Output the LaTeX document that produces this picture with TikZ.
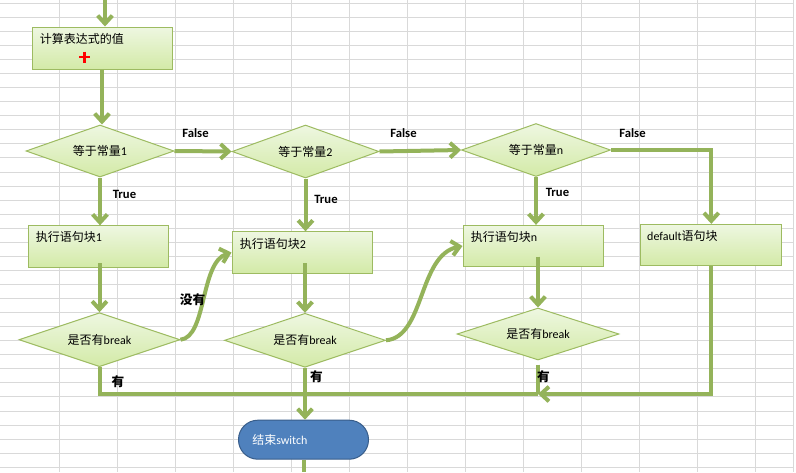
\documentclass[tikz,border=0pt]{standalone}
\usepackage{fontspec}
\setmainfont{Carlito}
\newfontfamily\cjk{Noto Sans CJK SC}
\usetikzlibrary{shapes.geometric,arrows.meta,calc}
\definecolor{gridc}{HTML}{D9D9D9}
\definecolor{arrc}{HTML}{94B35A}
\definecolor{boxtop}{HTML}{EEF7E1}
\definecolor{boxbot}{HTML}{D3EAA7}
\definecolor{boxline}{HTML}{9DBB61}
\definecolor{termfill}{HTML}{4F81BD}
\definecolor{termline}{HTML}{385D8A}
\begin{document}
\begin{tikzpicture}[x=0.75pt,y=-0.75pt,
  txt/.style={font=\fontsize{9}{11}\selectfont},
  stepbox/.style={rectangle, draw=boxline, line width=0.75pt, top color=boxtop, bottom color=boxbot,
    minimum width=105pt, minimum height=31pt, inner sep=0pt},
  decis/.style={diamond, shape aspect=3, draw=boxline, line width=0.75pt, top color=boxtop, bottom color=boxbot,
    inner sep=0pt, txt},
  term/.style={rectangle, rounded corners=14.5pt, draw=termline, line width=0.75pt, fill=termfill,
    minimum width=97.5pt, minimum height=29.25pt, inner sep=0pt},
  boxlbl/.style={txt, anchor=west, inner sep=0pt},
  arr/.style={draw=arrc, line width=3pt, -{Straight Barb[length=6pt,width=11pt]}},
  ln/.style={draw=arrc, line width=3pt},
  lbl/.style={font=\bfseries\fontsize{9.5}{11}\selectfont, inner sep=0pt}]
\useasboundingbox (0,0) rectangle (796,472);
\fill[white] (0,0) rectangle (796,472);
% grid
\foreach \k in {0,...,12} \draw[gridc, line width=0.75pt] ({59+58.07*\k},0) -- ({59+58.07*\k},472);
\draw[gridc, line width=0.75pt] (793,0) -- (793,472);
\foreach \k in {0,...,33} \draw[gridc, line width=0.75pt] (0,{3.3+14.06*\k}) -- (793,{3.3+14.06*\k});

% nodes
\node[stepbox, minimum height=31.5pt] (b0) at (102,48) {};
\node[boxlbl] at ([xshift=6pt,yshift=-9.5pt]b0.north west) {\cjk 计算表达式的值};
\draw[red, line width=1.6pt] (79,57) -- (90,57) (84.5,51.5) -- (84.5,62.5);

\node[decis, minimum width=111pt, minimum height=39pt] (d1) at (100,151) {{\cjk 等于常量}1};
\node[decis, minimum width=110.25pt, minimum height=39.75pt] (d2) at (305.5,151.5) {{\cjk 等于常量}2};
\node[decis, minimum width=111.75pt, minimum height=39.75pt] (d3) at (536,150) {{\cjk 等于常量}n};

\node[stepbox] (b1) at (98,246.5) {};
\node[boxlbl] at ([xshift=6pt,yshift=-9pt]b1.north west) {{\cjk 执行语句块}1};
\node[stepbox] (b2) at (302,252.5) {};
\node[boxlbl] at ([xshift=6pt,yshift=-9.5pt]b2.north west) {{\cjk 执行语句块}2};
\node[stepbox] (b3) at (533,246) {};
\node[boxlbl] at ([xshift=6pt,yshift=-9pt]b3.north west) {{\cjk 执行语句块}n};
\node[stepbox, minimum width=105.75pt] (bd) at (711.3,245) {};
\node[boxlbl] at ([xshift=5pt,yshift=-9pt]bd.north west) {default{\cjk 语句块}};

\node[decis, minimum width=120.75pt, minimum height=40.5pt] (d4) at (99.5,339.7) {{\cjk 是否有}break};
\node[decis, minimum width=120.75pt, minimum height=40.5pt] (d5) at (305,340.3) {{\cjk 是否有}break};
\node[decis, minimum width=121.5pt, minimum height=39pt] (d6) at (538,334) {{\cjk 是否有}break};

\node[term] (t) at (303.5,439.7) {};
\node[boxlbl, text=white] at ([xshift=10.5pt]t.west) {{\cjk 结束}switch};

\coordinate (top) at (105,0);
\coordinate (bus) at (0,394);
\coordinate (bot) at (303.5,472);

% connectors
\draw[arr] (top) -- (top |- b0.north);
\draw[arr] (b0.south) -- (b0.south |- d1.north);
\draw[arr] (d1.east) -- (d2.west);
\draw[arr] (d2.east) -- (d3.west);
\draw[arr] (d3.east) -| (bd.north);
\draw[arr] (d1.south) -- (d1.south |- b1.north);
\draw[arr] (d2.south) -- (d2.south |- b2.north);
\draw[arr] (d3.south) -- (d3.south |- b3.north);
\draw[arr] ([yshift=3.5pt]d4.north |- b1.south) -- (d4.north);
\draw[arr] ([yshift=8pt]d5.north |- b2.south) -- (d5.north);
\draw[arr] ([yshift=8pt]d6.north |- b3.south) -- (d6.north);
\draw[arr] (d4.east) .. controls (207,337) and (200,262) .. (b2.west);
\draw[arr] (d5.east) .. controls (425,337) and (418,255) .. (b3.west);
\draw[ln] (d4.south) |- (d6.south |- bus);
\draw[ln] ([yshift=-3pt]d6.south) -- (d6.south |- bus);
\draw[arr] (bd.south) |- (d6.south |- bus);
\draw[ln] (d5.south) -- (d5.south |- bus);
\draw[arr] (d5.south |- bus) -- (t.north -| d5.south);
\draw[ln] (t.south) -- (bot);

% labels
\node[lbl] at (195.5,133) {False};
\node[lbl] at (403.5,133) {False};
\node[lbl] at (632.5,133) {False};
\node[lbl] at (124.5,194) {True};
\node[lbl] at (326,199) {True};
\node[lbl] at (557.5,192) {True};
\node[lbl] at (192.5,300) {\cjk 没有};
\node[lbl] at (118,382) {\cjk 有};
\node[lbl] at (316.5,377) {\cjk 有};
\node[lbl] at (543.5,377) {\cjk 有};
\end{tikzpicture}
\end{document}
